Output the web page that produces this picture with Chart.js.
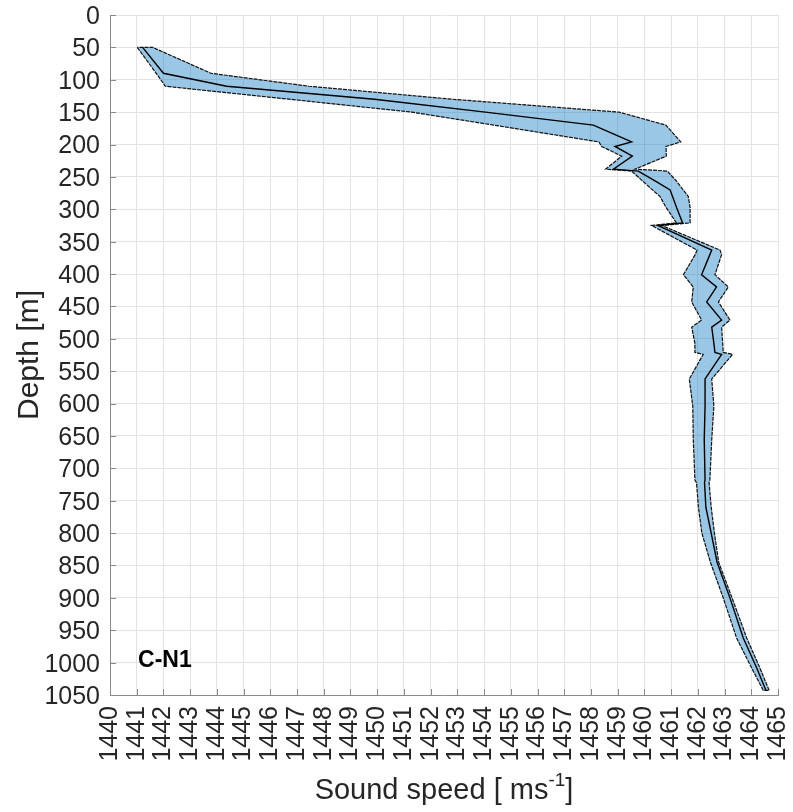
<!DOCTYPE html>
<html>
<head>
<meta charset="utf-8">
<title>C-N1 sound speed profile</title>
<script src="https://cdn.jsdelivr.net/npm/chart.js@4.4.1/dist/chart.umd.min.js"></script>
<style>
  html, body { margin: 0; padding: 0; background: #ffffff; }
  #wrap { width: 793px; height: 812px; }
</style>
</head>
<body>
<div id="wrap"><canvas id="profile" width="793" height="812"></canvas></div>
<script>
// Depth levels [m] and sound speed statistics [m/s] at each level
const depths = [50, 90, 110, 130, 150, 170, 196, 203, 218, 238, 241, 257, 270, 280, 297, 321, 325,
  363, 370, 401, 420, 443, 471, 482, 507, 521, 524, 562, 604, 656, 718, 722, 760, 800, 845, 900,
  962, 1008, 1043];
const lowerSpeed = [1441.02, 1441.73, 1442.07, 1446.7, 1451.3, 1454.36, 1458.3, 1458.4, 1459.15,
  1458.55, 1459.52, 1459.95, 1460.3, 1460.58, 1460.81, 1461.2, 1460.27, 1461.97, 1461.9, 1461.46,
  1461.83, 1461.77, 1462.14, 1461.77, 1461.89, 1461.89, 1462.2, 1461.68, 1461.81, 1461.83, 1461.89,
  1461.95, 1462.02, 1462.15, 1462.47, 1462.95, 1463.45, 1464.01, 1464.45];
const meanSpeed = [1441.22, 1442.0, 1444.37, 1449.9, 1454.05, 1458.09, 1459.52, 1458.9, 1459.55,
  1458.84, 1459.77, 1460.43, 1460.96, 1461.05, 1461.2, 1461.43, 1460.5, 1462.52, 1462.45, 1462.14,
  1462.7, 1462.33, 1462.89, 1462.52, 1462.6, 1462.64, 1462.89, 1462.27, 1462.27, 1462.24, 1462.27,
  1462.25, 1462.3, 1462.5, 1462.72, 1463.2, 1463.7, 1464.2, 1464.55];
const upperSpeed = [1441.6, 1443.78, 1447.45, 1452.8, 1459.05, 1460.8, 1461.36, 1460.81, 1460.82,
  1459.65, 1460.86, 1461.21, 1461.45, 1461.64, 1461.71, 1461.71, 1460.65, 1462.83, 1462.89, 1462.64,
  1463.14, 1462.77, 1463.2, 1462.89, 1462.93, 1462.95, 1463.3, 1462.52, 1462.6, 1462.52, 1462.45,
  1462.42, 1462.5, 1462.62, 1462.78, 1463.28, 1463.83, 1464.32, 1464.67];

// Axis ticks
const speedTicks = [1440, 1441, 1442, 1443, 1444, 1445, 1446, 1447, 1448, 1449, 1450, 1451, 1452,
  1453, 1454, 1455, 1456, 1457, 1458, 1459, 1460, 1461, 1462, 1463, 1464, 1465];
const depthTicks = [0, 50, 100, 150, 200, 250, 300, 350, 400, 450, 500, 550, 600, 650, 700, 750,
  800, 850, 900, 950, 1000, 1050];

const stationLabel = 'C-N1';

// Closed envelope: down the lower bound, back up the upper bound
const envelope = [];
for (let i = 0; i < depths.length; i++) envelope.push({ x: lowerSpeed[i], y: depths[i] });
for (let i = depths.length - 1; i >= 0; i--) envelope.push({ x: upperSpeed[i], y: depths[i] });
envelope.push({ x: lowerSpeed[0], y: depths[0] });

const meanProfile = depths.map((d, i) => ({ x: meanSpeed[i], y: d }));

const FONT = '"Liberation Sans", Arial, Helvetica, sans-serif';
const TEXT = '#262626';
const GRID = '#e4e4e4';
const AXIS = '#8a8a8a';

// Inward tick marks on the left and bottom axes
const innerTicks = {
  id: 'innerTicks',
  beforeDatasetsDraw(chart) {
    const { ctx, chartArea: a, scales: { x, y } } = chart;
    ctx.save();
    ctx.strokeStyle = AXIS;
    ctx.lineWidth = 1;
    ctx.beginPath();
    x.ticks.forEach((t, i) => {
      const px = Math.round(x.getPixelForTick(i)) + 0.5;
      ctx.moveTo(px, a.bottom);
      ctx.lineTo(px, a.bottom - 6);
    });
    y.ticks.forEach((t, i) => {
      const py = Math.round(y.getPixelForTick(i)) + 0.5;
      ctx.moveTo(a.left, py);
      ctx.lineTo(a.left + 6, py);
    });
    ctx.stroke();
    ctx.restore();
  }
};

// Axis titles and station label
const annotations = {
  id: 'annotations',
  afterDraw(chart) {
    const { ctx, chartArea: a, scales: { x, y } } = chart;
    ctx.save();
    ctx.fillStyle = TEXT;

    // x-axis title with superscript exponent
    const main = 'Sound speed [ ms';
    const sup = '-1';
    const close = ']';
    const mainFont = '29px ' + FONT;
    const supFont = '19px ' + FONT;
    ctx.font = mainFont;
    const wMain = ctx.measureText(main).width;
    const wClose = ctx.measureText(close).width;
    ctx.font = supFont;
    const wSup = ctx.measureText(sup).width;
    const total = wMain + wSup + wClose;
    let cx = (a.left + a.right) / 2 - total / 2;
    const base = 799;
    ctx.textBaseline = 'alphabetic';
    ctx.textAlign = 'left';
    ctx.font = mainFont;
    ctx.fillText(main, cx, base);
    cx += wMain;
    ctx.font = supFont;
    ctx.fillText(sup, cx, base - 13);
    cx += wSup;
    ctx.font = mainFont;
    ctx.fillText(close, cx, base);

    // y-axis title
    ctx.save();
    ctx.translate(38, (a.top + a.bottom) / 2);
    ctx.rotate(-Math.PI / 2);
    ctx.textAlign = 'center';
    ctx.textBaseline = 'alphabetic';
    ctx.font = '30px ' + FONT;
    ctx.fillText('Depth [m]', 0, 0);
    ctx.restore();

    // station label
    ctx.font = 'bold 23px ' + FONT;
    ctx.fillStyle = '#000000';
    ctx.textAlign = 'left';
    ctx.textBaseline = 'alphabetic';
    ctx.fillText(stationLabel, x.getPixelForValue(1441.05), y.getPixelForValue(1007));
    ctx.restore();
  }
};

new Chart(document.getElementById('profile'), {
  type: 'line',
  data: {
    datasets: [
      {
        label: 'mean',
        data: meanProfile,
        borderColor: '#000000',
        borderWidth: 1.4,
        pointRadius: 0,
        fill: false,
        tension: 0,
        order: 0
      },
      {
        label: 'envelope',
        data: envelope,
        borderColor: '#111111',
        borderWidth: 1.2,
        borderDash: [4, 1],
        backgroundColor: 'rgba(0, 114, 189, 0.4)',
        pointRadius: 0,
        fill: 'shape',
        tension: 0,
        order: 1
      }
    ]
  },
  options: {
    responsive: false,
    animation: false,
    devicePixelRatio: 1,
    layout: { padding: { top: 15, right: 15, left: 0, bottom: 0 } },
    plugins: {
      legend: { display: false },
      tooltip: { enabled: false },
      title: { display: false }
    },
    scales: {
      x: {
        type: 'linear',
        position: 'bottom',
        min: speedTicks[0],
        max: speedTicks[speedTicks.length - 1],
        afterBuildTicks(scale) { scale.ticks = speedTicks.map(v => ({ value: v })); },
        afterFit(scale) {
          scale.height = 117;
          scale.paddingLeft = 0;
          scale.paddingRight = 0;
        },
        ticks: {
          autoSkip: false,
          minRotation: 90,
          maxRotation: 90,
          padding: 11,
          color: TEXT,
          font: { family: FONT, size: 25 },
          callback: v => String(v)
        },
        grid: { color: GRID, drawTicks: false, lineWidth: 1 },
        border: { color: AXIS, width: 1 }
      },
      y: {
        type: 'linear',
        position: 'left',
        reverse: true,
        min: depthTicks[0],
        max: depthTicks[depthTicks.length - 1],
        afterBuildTicks(scale) { scale.ticks = depthTicks.map(v => ({ value: v })); },
        afterFit(scale) {
          scale.width = 110;
          scale.paddingTop = 0;
          scale.paddingBottom = 0;
        },
        ticks: {
          autoSkip: false,
          padding: 10,
          labelOffset: 2,
          color: TEXT,
          font: { family: FONT, size: 25 },
          callback: v => String(v)
        },
        grid: { color: GRID, drawTicks: false, lineWidth: 1 },
        border: { color: AXIS, width: 1 }
      }
    }
  },
  plugins: [innerTicks, annotations]
});
</script>
</body>
</html>
